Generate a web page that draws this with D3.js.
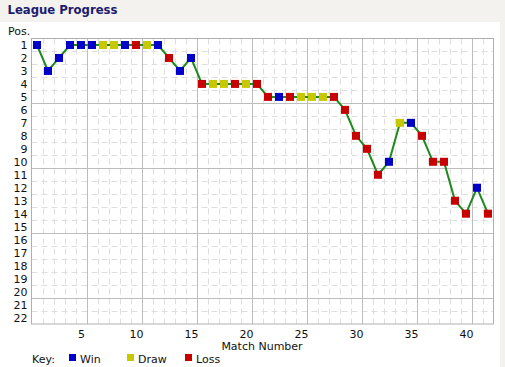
<!DOCTYPE html>
<html>
<head>
<meta charset="utf-8">
<script src="https://cdn.jsdelivr.net/npm/d3@7"></script>
<style>
  body { margin: 0; background: #f4f2ee; }
  svg { display: block; font-family: "DejaVu Sans", sans-serif; }
</style>
</head>
<body>
<script>
// match results: position in table after each match, and result
const matches = d3.range(1, 43);
const positions = [1, 3, 2, 1, 1, 1, 1, 1, 1, 1, 1, 1, 2, 3, 2, 4, 4, 4, 4, 4, 4,
                   5, 5, 5, 5, 5, 5, 5, 6, 8, 9, 11, 10, 7, 7, 8, 10, 10, 13, 14, 12, 14];
const results = ["W", "W", "W", "W", "W", "W", "D", "D", "W", "L", "D", "W", "L", "W", "W",
                 "L", "D", "D", "L", "D", "L", "L", "W", "L", "D", "D", "D", "L", "L", "L",
                 "L", "L", "W", "D", "W", "L", "L", "L", "L", "L", "W", "L"];
const xTicks = [5, 10, 15, 20, 25, 30, 35, 40];
const yTicks = d3.range(1, 23);
const legend = [["W", "Win"], ["D", "Draw"], ["L", "Loss"]];

const width = 505, height = 367;
const resColor = {W: "#0000c8", D: "#c8c800", L: "#c80000"};

const margin = {top: 38.5, right: 11.5, bottom: 43, left: 31.5};

const svg = d3.select("body").append("svg")
    .attr("width", width)
    .attr("height", height);

// header band and white panel
svg.append("rect").attr("x", 0).attr("y", 0).attr("width", width).attr("height", height).attr("fill", "#f4f2ee");
svg.append("rect").attr("x", 0).attr("y", 22).attr("width", 500).attr("height", height - 22).attr("fill", "#fff");

svg.append("text")
    .attr("x", 7.5).attr("y", 14)
    .attr("fill", "#1c1c6e")
    .attr("textLength", 110)
    .attr("lengthAdjust", "spacingAndGlyphs")
    .style("font-size", "12px")
    .style("font-weight", "bold")
    .text("League Progress");

const x = d3.scaleLinear().domain([0.5, 42.5]).range([margin.left, width - margin.right]);
const y = d3.scaleLinear().domain([0.5, 22.5]).range([margin.top, height - margin.bottom]);

const grid = svg.append("g");

// minor grid, dashed
grid.selectAll("line.vminor")
  .data(d3.range(1.5, 42.5, 1).filter(v => (v - 0.5) % 5 !== 0))
  .join("line")
    .attr("x1", d => Math.round(x(d)) + 0.5).attr("x2", d => Math.round(x(d)) + 0.5)
    .attr("y1", y(0.5)).attr("y2", y(22.5))
    .attr("stroke", "#dedede").attr("stroke-dasharray", "6,4");
grid.selectAll("line.hminor")
  .data(d3.range(1.5, 22.5, 1).filter(v => (v - 0.5) % 5 !== 0))
  .join("line")
    .attr("y1", d => Math.round(y(d)) + 0.5).attr("y2", d => Math.round(y(d)) + 0.5)
    .attr("x1", x(0.5)).attr("x2", x(42.5))
    .attr("stroke", "#dedede").attr("stroke-dasharray", "6,4");

// major grid
grid.selectAll("line.vmajor")
  .data(d3.range(5.5, 42.5, 5))
  .join("line")
    .attr("x1", d => Math.round(x(d)) + 0.5).attr("x2", d => Math.round(x(d)) + 0.5)
    .attr("y1", y(0.5)).attr("y2", y(22.5))
    .attr("stroke", "#bdbdbd");
grid.selectAll("line.hmajor")
  .data(d3.range(5.5, 22.5, 5))
  .join("line")
    .attr("y1", d => Math.round(y(d)) + 0.5).attr("y2", d => Math.round(y(d)) + 0.5)
    .attr("x1", x(0.5)).attr("x2", x(42.5))
    .attr("stroke", "#bdbdbd");

svg.append("rect")
    .attr("x", x(0.5)).attr("y", y(0.5))
    .attr("width", x(42.5) - x(0.5)).attr("height", y(22.5) - y(0.5))
    .attr("fill", "none").attr("stroke", "#b0b0b0");

// axes
const yAxis = svg.append("g")
    .attr("transform", `translate(${margin.left - 4},0)`)
    .call(d3.axisLeft(y).tickValues(yTicks).tickSize(0).tickPadding(0));
const xAxis = svg.append("g")
    .attr("transform", `translate(0,${height - margin.bottom + 4})`)
    .call(d3.axisBottom(x).tickValues(xTicks).tickSize(0).tickPadding(0));
[xAxis, yAxis].forEach(a => {
  a.select(".domain").remove();
  a.selectAll("text").attr("fill", "#111").style("font-size", "11px").style("font-family", "DejaVu Sans, sans-serif");
});
xAxis.selectAll("text").attr("dy", "0.9em");

svg.append("text")
    .attr("x", 8).attr("y", 35)
    .attr("fill", "#111").style("font-size", "11px")
    .text("Pos.");
svg.append("text")
    .attr("x", 262).attr("y", 350)
    .attr("text-anchor", "middle")
    .attr("fill", "#111").style("font-size", "11px")
    .text("Match Number");

// progress line
const line = d3.line()
    .x((d, i) => x(matches[i]))
    .y(d => y(d));
svg.append("path")
    .datum(positions)
    .attr("d", line)
    .attr("fill", "none")
    .attr("stroke", "#1e8a1e")
    .attr("stroke-width", 2);

svg.append("g")
  .selectAll("rect")
  .data(positions)
  .join("rect")
    .attr("x", (d, i) => x(matches[i]) - 4)
    .attr("y", d => y(d) - 4)
    .attr("width", 8).attr("height", 8)
    .attr("fill", (d, i) => resColor[results[i]]);

// key
const key = svg.append("g").style("font-size", "11px").attr("fill", "#111");
key.append("text").attr("x", 32).attr("y", 363).text("Key:");
const item = key.selectAll("g.item")
  .data(legend)
  .join("g")
    .attr("transform", (d, i) => `translate(${69 + i * 58},0)`);
item.append("rect")
    .attr("x", 0).attr("y", 354).attr("width", 7).attr("height", 7)
    .attr("fill", d => resColor[d[0]]);
item.append("text").attr("x", 11).attr("y", 363).text(d => d[1]);
</script>
</body>
</html>
